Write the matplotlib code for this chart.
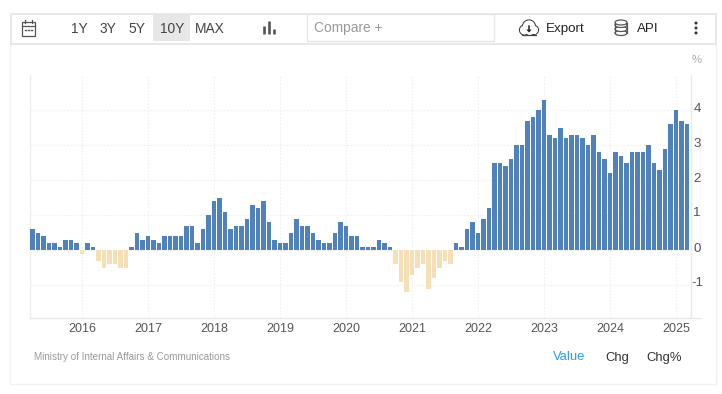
import matplotlib
matplotlib.use("Agg")
import matplotlib.pyplot as plt
import matplotlib.transforms as mt
from matplotlib.patches import Rectangle, Circle, Ellipse, Polygon

plt.rcParams['font.family'] = ['Liberation Sans', 'DejaVu Sans']

start_year = 2015
start_month = 4
values_2015 = [.6, .5, .4, .2, .2, .1, .3, .3, .2]
values_2016 = [-.1, .2, .1, -.3, -.5, -.4, -.4, -.5, -.5, .1, .5, .3]
values_2017 = [.4, .3, .2, .4, .4, .4, .4, .7, .7, .2, .6, 1.0]
values_2018 = [1.4, 1.5, 1.1, .6, .7, .7, .9, 1.3, 1.2, 1.4, .8, .3]
values_2019 = [.2, .2, .5, .9, .7, .7, .5, .3, .2, .2, .5, .8]
values_2020 = [.7, .4, .4, .1, .1, .1, .3, .2, .1, -.4, -.9, -1.2]
values_2021 = [-.7, -.5, -.4, -1.1, -.8, -.5, -.3, -.4, .2, .1, .6, .8]
values_2022 = [.5, .9, 1.2, 2.5, 2.5, 2.4, 2.6, 3.0, 3.0, 3.7, 3.8, 4.0]
values_2023 = [4.3, 3.3, 3.2, 3.5, 3.2, 3.3, 3.3, 3.2, 3.0, 3.3, 2.8, 2.6]
values_2024 = [2.2, 2.8, 2.7, 2.5, 2.8, 2.8, 2.8, 3.0, 2.5, 2.3, 2.9, 3.6]
values_2025 = [4.0, 3.7, 3.6]
year_ticks = [2016, 2017, 2018, 2019, 2020, 2021, 2022, 2023, 2024, 2025]
y_ticks = [-1, 0, 1, 2, 3, 4]
range_labels = ['1Y', '3Y', '5Y', '10Y', 'MAX']
view_labels = ['Value', 'Chg', 'Chg%']

values = (values_2015 + values_2016 + values_2017 + values_2018 + values_2019 + values_2020
          + values_2021 + values_2022 + values_2023 + values_2024 + values_2025)
months = [start_year + (start_month - 1 + i) / 12 for i in range(len(values))]

W, H = 722, 394
fig = plt.figure(figsize=(W / 100, H / 100), dpi=100, facecolor='white')

# pixel overlay for the page furniture
ui = fig.add_axes([0, 0, 1, 1], zorder=0)
ui.set_xlim(0, W); ui.set_ylim(H, 0); ui.axis('off')

def box(x, y, w, h, fc='none', ec='#eeeeee', lw=1.0, z=1):
    ui.add_patch(Rectangle((x, y), w, h, fc=fc, ec=ec, lw=lw, zorder=z))

box(10, 43, 706, 341, ec='#f1f1f1')
box(10.5, 13.5, 705, 30, fc='white', ec='#e4e4e4', lw=1.2)
box(153, 14, 37, 27, fc='#e7e7e7', ec='none', lw=0, z=2)
box(306.5, 13.5, 187, 27, fc='white', ec='#e6e6e6', lw=1.0, z=2)

for label, cx in zip(range_labels, [79, 108, 137, 172, 210]):
    ui.text(cx, 29, label, ha='center', va='center', fontsize=9.9, color='#444444', zorder=3)
ui.text(314.5, 28, 'Compare +', ha='left', va='center', fontsize=9.9, color='#999999', zorder=3)
ui.text(546, 28.5, 'Export', ha='left', va='center', fontsize=9.6, color='#222222', zorder=3)
ui.text(637, 28.5, 'API', ha='left', va='center', fontsize=9.6, color='#222222', zorder=3)

# calendar icon
box(21.5, 22, 13, 13.5, ec='#555555', lw=0.9, z=3)
ui.plot([21.5, 34.5], [25.5, 25.5], color='#555555', lw=0.9, zorder=3)
for xx in (24.5, 31.5):
    ui.plot([xx, xx], [20, 23], color='#555555', lw=0.9, zorder=3)
for xx in (25, 28, 31):
    ui.plot([xx, xx + 1], [29.5, 29.5], color='#555555', lw=1.0, zorder=3)
# bar-chart icon
for xx, top in zip((264, 269, 274), (26, 21, 29)):
    ui.plot([xx, xx], [top, 33.5], color='#555555', lw=1.9, solid_capstyle='butt', zorder=3)
# cloud icon
for cx, cy, r in [(524.5, 30, 5), (529, 26.5, 6.5), (534, 30, 4.5)]:
    ui.add_patch(Circle((cx, cy), r, fc='white', ec='#444444', lw=0.9, zorder=3))
for cx, cy, r in [(524.5, 30, 4.4), (529, 26.5, 5.9), (534, 30, 3.9)]:
    ui.add_patch(Circle((cx, cy), r, fc='white', ec='none', zorder=3.1))
ui.add_patch(Rectangle((522, 29), 14, 5.3, fc='white', ec='none', zorder=3.1))
ui.plot([522, 536], [34.7, 34.7], color='#444444', lw=0.9, zorder=3.2)
ui.plot([529, 529], [26, 30], color='#222222', lw=1.1, zorder=3.3)
ui.add_patch(Polygon([[526.3, 29.5], [531.7, 29.5], [529, 32.5]], fc='#222222', ec='none', zorder=3.3))
# database icon
ui.add_patch(Rectangle((615, 21.5), 12, 13, fc='white', ec='none', zorder=2.9))
for cy in (33, 29, 25, 22.5):
    ui.add_patch(Ellipse((621, cy), 12, 5, fc='white', ec='#555555', lw=0.9, zorder=3))
for xx in (615, 627):
    ui.plot([xx, xx], [22.5, 33], color='#555555', lw=0.9, zorder=3.2)
# kebab
for cy in (23, 28, 33):
    ui.add_patch(Circle((696, cy), 1.5, fc='#333333', ec='none', zorder=3))

ui.text(697, 59.5, '%', ha='center', va='center', fontsize=8.2, color='#aaaaaa', zorder=3)
ui.text(34.5, 357, 'Ministry of Internal Affairs & Communications', ha='left', va='center',
        fontsize=7.1, color='#999999', zorder=3)
for label, cx, col in zip(view_labels, [569, 617, 664], ['#2b9af3', '#333333', '#333333']):
    ui.text(cx, 357.5, label, ha='center', va='center', fontsize=9.4, color=col, zorder=3)

# chart axes: x in years, y in percent
px_per_year = 66.0
x_left = 2016 + (30 - 82) / px_per_year
x_right = 2016 + (701 - 82) / px_per_year
ax = fig.add_axes([30 / W, 1 - 318 / H, (701 - 30) / W, (318 - 75) / H], zorder=2)
ax.patch.set_alpha(0)
ax.set_xlim(x_left, x_right)
ax.set_ylim(-68 / 35, 175 / 35)

colors = ['#4f81bd' if v >= 0 else '#f7dfb5' for v in values]
ax.bar(months, values, width=4.6 / px_per_year, color=colors, linewidth=0, zorder=3)

for s in ('top', 'right'):
    ax.spines[s].set_visible(False)
ax.spines['left'].set_color('#eeeeee')
ax.spines['bottom'].set_color('#e6e6e6')
ax.spines['left'].set_linewidth(1.0)
ax.spines['bottom'].set_linewidth(1.0)
ax.axvline(2016 + (691 - 82) / px_per_year, color='#e9e9e9', lw=1.0, zorder=1)

ax.set_xticks(year_ticks)
ax.set_yticks(y_ticks)
ax.grid(True, color='#efefef', lw=0.8, ls=(0, (1.5, 1.5)), zorder=0)
ax.set_axisbelow(True)
ax.tick_params(axis='both', length=0, colors='#555555')
ax.tick_params(axis='x', pad=3.5, labelsize=9.0)
ax.yaxis.tick_right()
ax.tick_params(axis='y', pad=0, labelsize=9.6)
ax.set_yticklabels([str(t) for t in y_ticks], va='center', ha='center')
for lab in ax.get_yticklabels():
    lab.set_transform(lab.get_transform() + mt.ScaledTranslation(-4 / 100, 1.5 / 100, fig.dpi_scale_trans))

fig.savefig('out.png', dpi=100)
